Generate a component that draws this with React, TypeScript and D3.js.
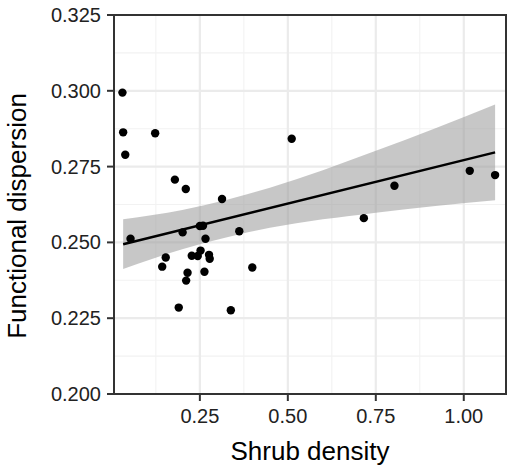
import React from "react";
import * as d3 from "d3";

// Shrub density (x) and functional dispersion (y)
const shrubDensity = [
  0.030, 0.032, 0.123, 0.038, 0.179, 0.210, 0.313, 0.053, 0.201, 0.250,
  0.259, 0.266, 0.362, 0.153, 0.143, 0.227, 0.244, 0.252, 0.276, 0.278,
  0.215, 0.211, 0.263, 0.399, 0.190, 0.338, 0.511, 0.716, 0.803, 1.017,
  1.089,
];
const functionalDispersion = [
  0.2994, 0.2863, 0.2860, 0.2789, 0.2707, 0.2676, 0.2643, 0.2512, 0.2533, 0.2554,
  0.2555, 0.2512, 0.2537, 0.2450, 0.2420, 0.2456, 0.2455, 0.2473, 0.2459, 0.2446,
  0.2400, 0.2374, 0.2403, 0.2417, 0.2285, 0.2276, 0.2842, 0.2580, 0.2687, 0.2736,
  0.2722,
];

// fitted model line and its confidence band
const fitX = [0.032, 1.089];
const fitY = [0.2494, 0.2797];
const bandX = [0.032, 0.2, 0.449, 0.75, 1.089];
const bandLo = [0.2412, 0.2477, 0.2548, 0.2598, 0.2639];
const bandHi = [0.2576, 0.2607, 0.268, 0.2802, 0.2955];

const xTicks = [0.25, 0.5, 0.75, 1.0];
const xMinor = [0.125, 0.375, 0.625, 0.875];
const yTicks = [0.2, 0.225, 0.25, 0.275, 0.3, 0.325];
const yMinor = [0.2125, 0.2375, 0.2625, 0.2875, 0.3125];

const W = 508;
const H = 466;
const panel = { left: 114, right: 506, top: 15, bottom: 394 };
const font = "'Liberation Sans', Arial, Helvetica, sans-serif";

export default function App() {
  const x = d3.scaleLinear().domain([0.006, 1.12]).range([panel.left, panel.right]);
  const y = d3.scaleLinear().domain([0.2, 0.325]).range([panel.bottom, panel.top]);

  const band = bandX.map((v, i) => ({ x: v, lo: bandLo[i], hi: bandHi[i] }));
  const area = d3
    .area<{ x: number; lo: number; hi: number }>()
    .x((d) => x(d.x))
    .y0((d) => y(d.lo))
    .y1((d) => y(d.hi))
    .curve(d3.curveMonotoneX);
  const line = d3
    .line<number>()
    .x((d) => x(d))
    .y((d, i) => y(fitY[i]));

  const points = shrubDensity.map((v, i) => ({ x: v, y: functionalDispersion[i] }));

  return (
    <svg
      width={W}
      height={H}
      style={{ position: "absolute", left: 0, top: 0, background: "#fff" }}
      fontFamily={font}
    >
      <rect x={0} y={0} width={W} height={H} fill="#fff" />
      {/* minor grid */}
      {xMinor.map((t) => (
        <line key={"xm" + t} x1={x(t)} x2={x(t)} y1={panel.top} y2={panel.bottom} stroke="#F2F2F2" strokeWidth={1.1} />
      ))}
      {yMinor.map((t) => (
        <line key={"ym" + t} x1={panel.left} x2={panel.right} y1={y(t)} y2={y(t)} stroke="#F2F2F2" strokeWidth={1.1} />
      ))}
      {/* major grid */}
      {xTicks.map((t) => (
        <line key={"xg" + t} x1={x(t)} x2={x(t)} y1={panel.top} y2={panel.bottom} stroke="#EBEBEB" strokeWidth={2.2} />
      ))}
      {yTicks.map((t) => (
        <line key={"yg" + t} x1={panel.left} x2={panel.right} y1={y(t)} y2={y(t)} stroke="#EBEBEB" strokeWidth={2.2} />
      ))}

      {/* confidence band and fit */}
      <path d={area(band) ?? ""} fill="#999999" fillOpacity={0.55} />
      <path d={line(fitX) ?? ""} fill="none" stroke="#000" strokeWidth={2.5} />

      {/* points */}
      {points.map((p, i) => (
        <circle key={i} cx={x(p.x)} cy={y(p.y)} r={4.2} fill="#000" />
      ))}

      {/* panel border */}
      <rect
        x={panel.left}
        y={panel.top}
        width={panel.right - panel.left}
        height={panel.bottom - panel.top}
        fill="none"
        stroke="#333333"
        strokeWidth={2}
      />

      {/* x axis */}
      {xTicks.map((t) => (
        <g key={"xt" + t}>
          <line x1={x(t)} x2={x(t)} y1={panel.bottom} y2={panel.bottom + 7} stroke="#333333" strokeWidth={2} />
          <text x={x(t)} y={423} textAnchor="middle" fontSize={20} fill="#222">
            {d3.format(".2f")(t)}
          </text>
        </g>
      ))}
      {/* y axis */}
      {yTicks.map((t) => (
        <g key={"yt" + t}>
          <line x1={panel.left - 7} x2={panel.left} y1={y(t)} y2={y(t)} stroke="#333333" strokeWidth={2} />
          <text x={101} y={y(t) + 7} textAnchor="end" fontSize={20} fill="#222">
            {d3.format(".3f")(t)}
          </text>
        </g>
      ))}

      <text x={(panel.left + panel.right) / 2} y={460} textAnchor="middle" fontSize={26} fill="#000">
        Shrub density
      </text>
      <text
        transform={`translate(26,216) rotate(-90)`}
        textAnchor="middle"
        fontSize={26}
        fill="#000"
      >
        Functional dispersion
      </text>
    </svg>
  );
}
